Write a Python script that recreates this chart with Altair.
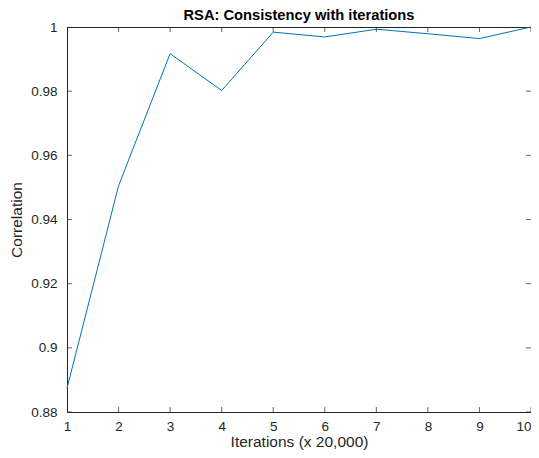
import altair as alt
import pandas as pd

iterations = [1, 2, 3, 4, 5, 6, 7, 8, 9, 10]
correlation = [0.8874, 0.9505, 0.9917, 0.9802, 0.9984, 0.9969, 0.9993, 0.9979, 0.9964, 1.0]
x_ticks = [1, 2, 3, 4, 5, 6, 7, 8, 9, 10]
y_ticks = [0.88, 0.90, 0.92, 0.94, 0.96, 0.98, 1.0]

W, H = 464, 385
AX = "#262626"
FONT = "Liberation Sans"

df = pd.DataFrame({"x": iterations, "y": correlation})
xt = pd.DataFrame({"x": x_ticks})
yt = pd.DataFrame({"y": y_ticks})

xscale = alt.Scale(domain=[1, 10], nice=False, zero=False)
yscale = alt.Scale(domain=[0.88, 1.0], nice=False, zero=False)

line = alt.Chart(df).mark_line(color="#0072BD", strokeWidth=1).encode(
    x=alt.X("x:Q", scale=xscale,
            axis=alt.Axis(title="Iterations (x 20,000)", values=x_ticks, ticks=False,
                          labelPadding=7, titlePadding=2, grid=False, format="d",
                          labelAlign={"condition": {"test": "datum.value == 10", "value": "right"},
                                      "value": "center"})),
    y=alt.Y("y:Q", scale=yscale,
            axis=alt.Axis(title="Correlation", values=y_ticks, ticks=False,
                          labelPadding=10, titlePadding=6, grid=False, format=".2~f")),
)

tick_x_bottom = alt.Chart(xt).mark_tick(orient="vertical", size=10, thickness=1, color=AX, clip=True).encode(
    x=alt.X("x:Q", scale=xscale), y=alt.value(H))
tick_x_top = alt.Chart(xt).mark_tick(orient="vertical", size=10, thickness=1, color=AX, clip=True).encode(
    x=alt.X("x:Q", scale=xscale), y=alt.value(0))
tick_y_left = alt.Chart(yt).mark_tick(orient="horizontal", size=10, thickness=1, color=AX, clip=True).encode(
    y=alt.Y("y:Q", scale=yscale), x=alt.value(0))
tick_y_right = alt.Chart(yt).mark_tick(orient="horizontal", size=10, thickness=1, color=AX, clip=True).encode(
    y=alt.Y("y:Q", scale=yscale), x=alt.value(W))

chart = alt.layer(line, tick_x_bottom, tick_x_top, tick_y_left, tick_y_right).properties(
    width=W, height=H,
    background="white",
    title=alt.TitleParams("RSA: Consistency with iterations", fontSize=14.7, fontWeight="bold",
                          font=FONT, color="black", offset=-3, anchor="middle"),
    autosize=alt.AutoSizeParams(type="none"),
    padding={"left": 59, "top": 19, "right": 0, "bottom": 38},
).configure_view(stroke=AX, strokeWidth=1).configure_axis(
    domainColor=AX, domainWidth=1, labelColor=AX, titleColor=AX,
    labelFont=FONT, titleFont=FONT, labelFontSize=13.5, titleFontSize=15.5,
    titleFontWeight="normal",
)

chart.save("out.html", embed_options={"renderer": "svg", "actions": False})
